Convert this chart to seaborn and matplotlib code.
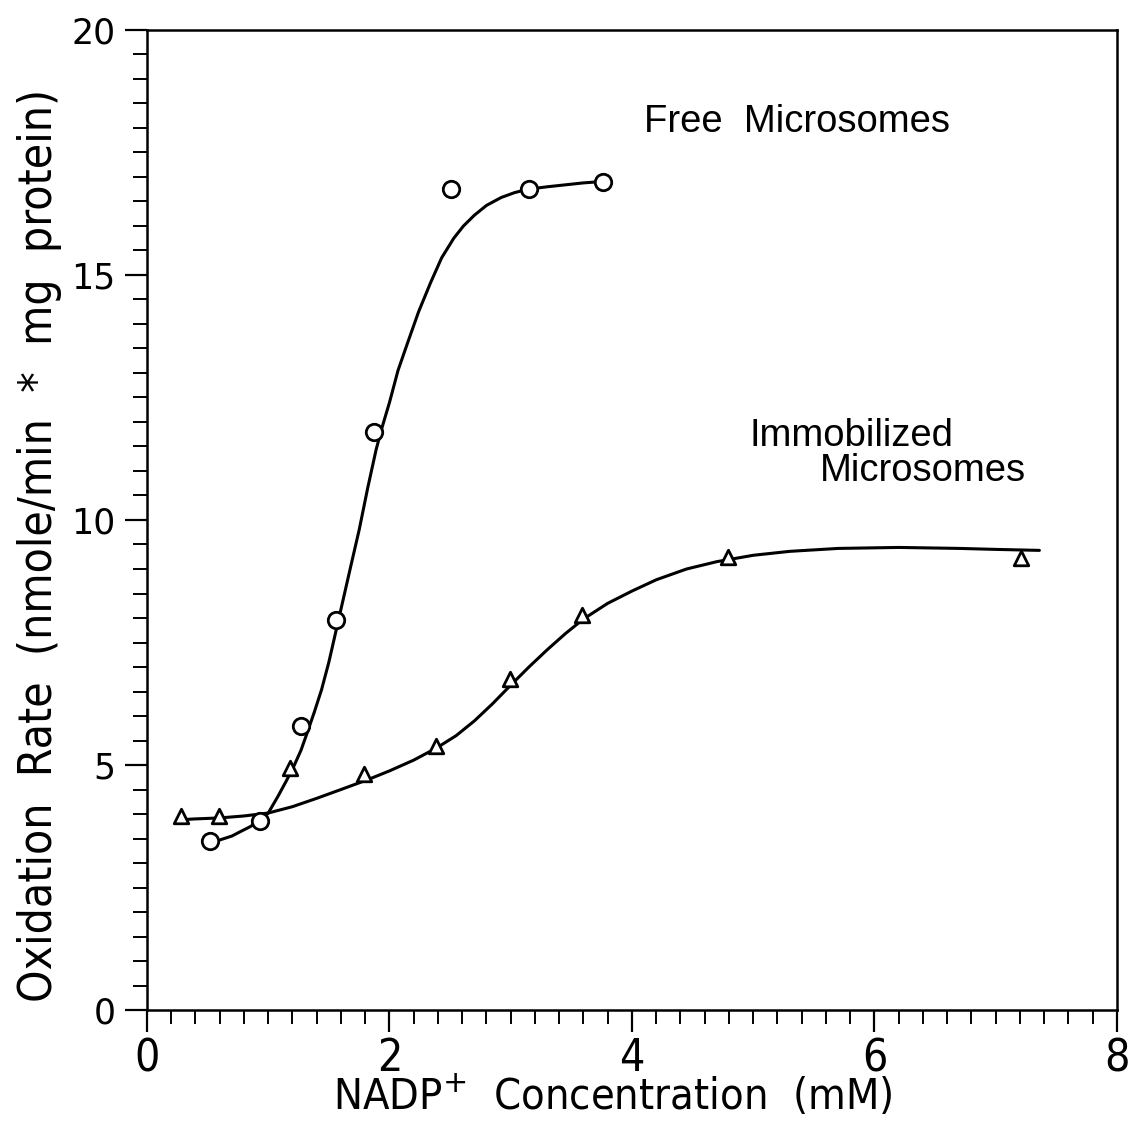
import matplotlib
matplotlib.use("Agg")
import matplotlib.pyplot as plt
import matplotlib.font_manager as fm
from matplotlib.font_manager import FontProperties
from matplotlib.ticker import MultipleLocator
import seaborn as sns
import pandas as pd

# ---- data ----
free_x = [0.52, 0.93, 1.27, 1.56, 1.87, 2.51, 3.15, 3.76]
free_y = [3.45, 3.85, 5.80, 7.96, 11.80, 16.76, 16.76, 16.90]

immob_x = [0.28, 0.59, 1.18, 1.79, 2.38, 2.99, 3.59, 4.79, 7.21]
immob_y = [3.96, 3.96, 4.94, 4.82, 5.39, 6.76, 8.06, 9.24, 9.22]

# fitted curves
free_fit_x = [0.52, 0.60, 0.70, 0.77, 0.85, 0.93, 1.00, 1.08, 1.15, 1.21, 1.27, 1.32, 1.38,
              1.44, 1.50, 1.56, 1.62, 1.68, 1.75, 1.82, 1.89, 1.94, 2.00, 2.07, 2.15, 2.24,
              2.34, 2.43, 2.53, 2.61, 2.70, 2.80, 2.92, 3.03, 3.14, 3.30, 3.45, 3.60, 3.77]
free_fit_y = [3.43, 3.47, 3.55, 3.64, 3.74, 3.87, 4.02, 4.36, 4.68, 4.97, 5.30, 5.65, 6.08,
              6.54, 7.10, 7.75, 8.40, 9.05, 9.80, 10.65, 11.44, 11.90, 12.40, 13.05, 13.62, 14.25,
              14.85, 15.35, 15.75, 16.00, 16.22, 16.42, 16.58, 16.68, 16.75, 16.80, 16.84, 16.88, 16.91]

immob_fit_x = [0.25, 0.40, 0.60, 0.80, 1.00, 1.20, 1.40, 1.60, 1.82, 2.00, 2.20, 2.39, 2.55,
               2.70, 2.85, 3.00, 3.15, 3.30, 3.45, 3.60, 3.80, 4.00, 4.20, 4.45, 4.70, 5.00,
               5.30, 5.70, 6.20, 6.70, 7.00, 7.36]
immob_fit_y = [3.88, 3.90, 3.92, 3.96, 4.02, 4.15, 4.32, 4.50, 4.70, 4.88, 5.10, 5.35, 5.60,
               5.90, 6.25, 6.63, 7.00, 7.35, 7.68, 7.98, 8.30, 8.55, 8.78, 9.00, 9.15, 9.28,
               9.36, 9.42, 9.44, 9.42, 9.40, 9.38]

x_ticks = [0, 2, 4, 6, 8]
y_ticks = [0, 5, 10, 15, 20]

sns.set_style("ticks")
plt.rcParams["font.family"] = ["Liberation Sans", "DejaVu Sans"]
plt.rcParams["text.color"] = "black"
plt.rcParams["axes.labelcolor"] = "black"
plt.rcParams["xtick.color"] = "black"
plt.rcParams["ytick.color"] = "black"

# find a narrow / condensed sans font if one is installed
narrow_fp = None
prefs = ["LiberationSansNarrow-Regular", "DejaVuSansCondensed.ttf", "RobotoCondensed-Regular",
         "OpenSans_Condensed-Regular", "OpenSansCondensed", "Condensed-Regular", "Narrow"]
files = [f.fname for f in fm.fontManager.ttflist]
for p in prefs:
    hits = [f for f in files if p.lower() in f.lower() and "bold" not in f.lower()
            and "italic" not in f.lower() and "oblique" not in f.lower()]
    if hits:
        narrow_fp = hits[0]
        break
if narrow_fp is None:
    for f in files:
        fl = f.lower()
        if ("condensed" in fl or "narrow" in fl) and "bold" not in fl and "italic" not in fl \
                and "mono" not in fl and "serif" not in fl.replace("sans", ""):
            narrow_fp = f
            break


def nprop(size):
    if narrow_fp:
        return FontProperties(fname=narrow_fp, size=size)
    return FontProperties(family="DejaVu Sans", size=size)


fig = plt.figure(figsize=(11.31, 11.23), dpi=100)
ax = fig.add_axes([0.12997, 0.10062, 0.85765, 0.87267])

df_free = pd.DataFrame({"x": free_fit_x, "y": free_fit_y})
df_imm = pd.DataFrame({"x": immob_fit_x, "y": immob_fit_y})
sns.lineplot(data=df_free, x="x", y="y", sort=False, color="black", lw=2.2, ax=ax,
             solid_joinstyle="round", solid_capstyle="round")
sns.lineplot(data=df_imm, x="x", y="y", sort=False, color="black", lw=2.2, ax=ax,
             solid_joinstyle="round", solid_capstyle="round")

sns.scatterplot(x=free_x, y=free_y, marker="o", s=140, facecolor="white",
                edgecolor="black", linewidth=2.0, zorder=5, ax=ax)
sns.scatterplot(x=immob_x, y=immob_y, marker="^", s=110, facecolor="white",
                edgecolor="black", linewidth=2.0, zorder=5, ax=ax)

ax.set_xlim(0, 8)
ax.set_ylim(0, 20)
ax.set_xticks(x_ticks)
ax.set_yticks(y_ticks)
ax.xaxis.set_minor_locator(MultipleLocator(0.2))
ax.yaxis.set_minor_locator(MultipleLocator(0.5))
ax.tick_params(axis="both", which="major", direction="out", length=15.5, width=1.6, color="black")
ax.tick_params(axis="both", which="minor", direction="out", length=10, width=1.4, color="black")
ax.tick_params(top=False, right=False, which="both")
ax.tick_params(axis="x", which="major", pad=4)
ax.tick_params(axis="y", which="major", pad=7)
ax.set_xticklabels([str(v) for v in x_ticks])
ax.set_yticklabels([str(v) for v in y_ticks])
for lab in ax.get_xticklabels():
    lab.set_fontproperties(nprop(32))
for lab in ax.get_yticklabels():
    lab.set_fontfamily("DejaVu Sans")
    lab.set_fontsize(25)

for sp in ax.spines.values():
    sp.set_visible(True)
    sp.set_linewidth(1.8)
    sp.set_color("black")

xl = ax.set_xlabel(r"NADP$^{+}$  Concentration  (mM)", fontproperties=nprop(32), labelpad=1)
yl = ax.set_ylabel("Oxidation  Rate  (nmole/min  *  mg  protein)", fontproperties=nprop(32))
plt.rcParams["mathtext.fontset"] = "custom"
if narrow_fp:
    plt.rcParams["mathtext.rm"] = FontProperties(fname=narrow_fp).get_name()

t1 = ax.text(4.10, 17.91, "Free  Microsomes", fontsize=27.5, ha="left", va="baseline")
t2 = ax.text(4.97, 11.50, "Immobilized", fontsize=27.5, ha="left", va="baseline")
t3 = ax.text(5.55, 10.79, "Microsomes", fontsize=27.5, ha="left", va="baseline")

# scale the axis titles so their lengths match the reference
fig.canvas.draw()
r = fig.canvas.get_renderer()
wx = xl.get_window_extent(r).width
hy = yl.get_window_extent(r).height
xl.set_fontsize(32 * 560.0 / wx)
yl.set_fontsize(32 * 914.0 / hy)
ax.yaxis.set_label_coords(-0.088, 0.4745)
ax.xaxis.set_label_coords(0.4804, -0.066)

fig.savefig("out.png", dpi=100, facecolor="white")
